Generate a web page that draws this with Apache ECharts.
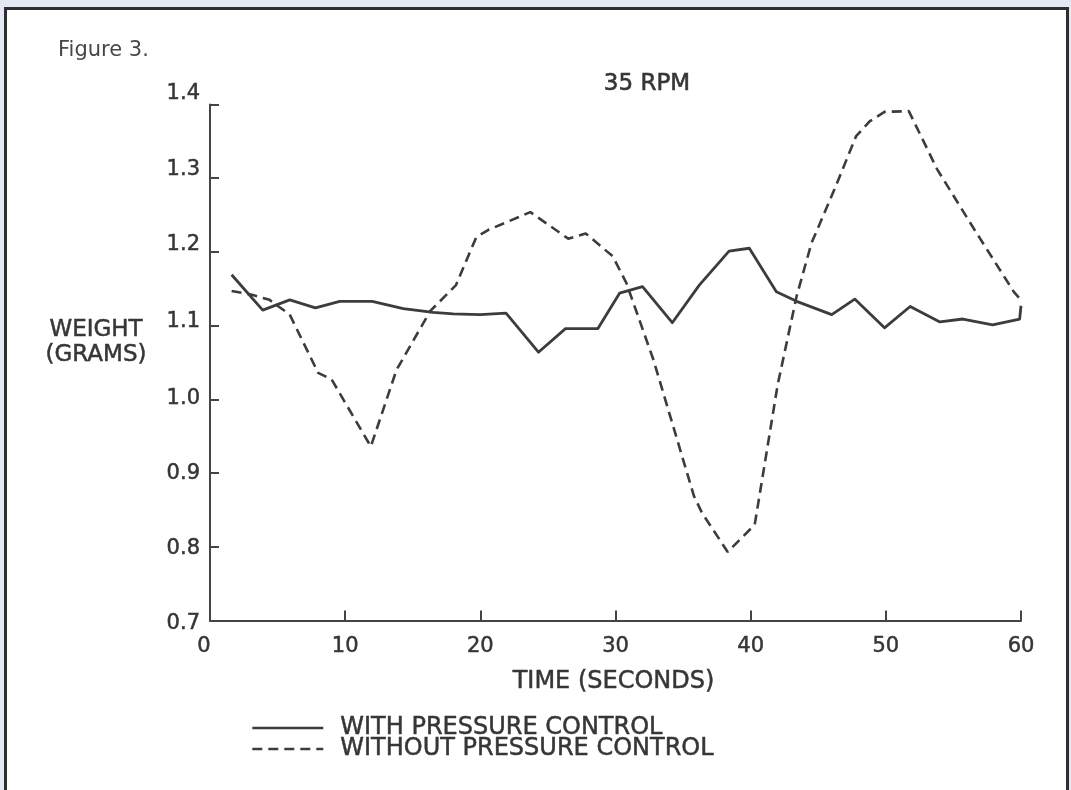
<!DOCTYPE html>
<html>
<head>
<meta charset="utf-8">
<script src="https://cdn.jsdelivr.net/npm/echarts@6/dist/echarts.min.js"></script>
<style>
  html, body { margin: 0; padding: 0; width: 1071px; height: 790px; overflow: hidden; background: #e4e8f2; }
  #frame { position: absolute; left: 4px; top: 7px; width: 1065px; height: 800px; box-sizing: border-box; border: 3px solid #2e2e2e; background: #ffffff; }
  #chart { position: absolute; left: 0; top: 0; width: 1071px; height: 790px; }
</style>
</head>
<body>
<div id="frame"></div>
<div id="chart"></div>
<script>
// ---- data ----
const seriesNames = ['WITH PRESSURE CONTROL', 'WITHOUT PRESSURE CONTROL'];

const timeWith = [1.6, 3.9, 5.9, 7.8, 9.6, 12.0, 14.3, 16.5, 18.0, 20.0, 21.9, 24.3, 26.3, 28.7, 30.3, 32.0, 34.2, 36.2, 38.4, 39.9, 41.9, 43.4, 46.0, 47.7, 49.9, 51.8, 54.0, 55.7, 57.9, 59.9, 60.0];
const weightWith = [1.169, 1.121, 1.135, 1.124, 1.133, 1.133, 1.123, 1.118, 1.116, 1.115, 1.117, 1.064, 1.096, 1.096, 1.144, 1.153, 1.104, 1.155, 1.201, 1.205, 1.146, 1.133, 1.115, 1.136, 1.097, 1.126, 1.105, 1.109, 1.101, 1.109, 1.127];

const timeWithout = [1.6, 3.1, 4.4, 5.9, 8.0, 9.0, 11.9, 13.8, 16.3, 18.2, 19.7, 20.6, 23.7, 26.5, 27.8, 29.8, 30.8, 32.8, 35.8, 36.4, 38.3, 40.3, 42.0, 43.4, 44.5, 46.2, 47.8, 48.8, 49.9, 51.7, 53.8, 56.7, 59.5, 60.0];
const weightWithout = [1.147, 1.142, 1.135, 1.115, 1.036, 1.027, 0.936, 1.040, 1.120, 1.155, 1.220, 1.230, 1.254, 1.218, 1.225, 1.194, 1.158, 1.054, 0.869, 0.846, 0.793, 0.830, 1.020, 1.140, 1.212, 1.285, 1.357, 1.377, 1.390, 1.391, 1.312, 1.226, 1.145, 1.135];

const xTicks = [0, 10, 20, 30, 40, 50, 60];
const yTicks = ['0.7', '0.8', '0.9', '1.0', '1.1', '1.2', '1.3', '1.4'];

// ---- styling ----
const FONT = 'DejaVu Sans';
const TXT = '#363636';
const LINE = '#3c3c3c';
const THICK = { textBorderColor: TXT, textBorderWidth: 0.5 };

// small vertical shifts of the y tick labels as printed in the original
const yShift = { '1.4': -11, '1.3': -9, '1.2': -7, '1.1': -4, '1.0': -1, '0.9': 0, '0.8': 2, '0.7': 3 };
const yRich = {};
yTicks.forEach((t, i) => {
  const d = yShift[t] || 0;
  yRich['y' + i] = Object.assign({
    fontFamily: FONT, fontSize: 21, color: TXT,
    padding: d < 0 ? [0, 0, -2 * d, 0] : [2 * d, 0, 0, 0]
  }, THICK);
});

const chart = echarts.init(document.getElementById('chart'), null, { renderer: 'canvas' });

const legendBase = {
  left: 251, padding: 0, itemWidth: 71, itemHeight: 14,
  itemStyle: { opacity: 0 },
  lineStyle: { width: 2.6 },
  textStyle: Object.assign({ fontFamily: FONT, fontSize: 24, color: TXT, lineHeight: 24, padding: [0, 0, 7, 12] }, THICK)
};

const option = {
  backgroundColor: 'transparent',
  animation: false,
  grid: { left: 210, right: 50, top: 104.5, bottom: 169.5, containLabel: false },
  xAxis: {
    type: 'value', min: xTicks[0], max: xTicks[xTicks.length - 1], interval: 10,
    axisLine: { show: true, onZero: false, lineStyle: { color: '#444', width: 2 } },
    axisTick: { show: true, inside: true, length: 10, lineStyle: { color: '#444', width: 2 } },
    splitLine: { show: false },
    axisLabel: {
      margin: 16, color: TXT, fontFamily: FONT, fontSize: 21,
      formatter: v => v === 0 ? '{z|0}' : '{n|' + v + '}',
      rich: {
        z: Object.assign({ fontFamily: FONT, fontSize: 21, color: TXT, padding: [0, 12, 0, 0] }, THICK),
        n: Object.assign({ fontFamily: FONT, fontSize: 21, color: TXT }, THICK)
      }
    }
  },
  yAxis: {
    type: 'value', min: 0.7, max: 1.4, interval: 0.1,
    axisLine: { show: true, onZero: false, lineStyle: { color: '#444', width: 2 } },
    axisTick: { show: true, inside: true, length: 9, lineStyle: { color: '#444', width: 2 } },
    splitLine: { show: false },
    axisLabel: {
      margin: 10, color: TXT, fontFamily: FONT, fontSize: 21,
      formatter: v => {
        const s = v.toFixed(1);
        const i = yTicks.indexOf(s);
        return '{y' + i + '|' + s + '}';
      },
      rich: yRich
    }
  },
  legend: [
    Object.assign({ data: [seriesNames[0]], top: 712.5 }, legendBase),
    Object.assign({ data: [seriesNames[1]], top: 733.5 }, legendBase)
  ],
  graphic: [
    { type: 'text', left: 58, top: 40, style: { text: 'Figure 3.', font: '21px "DejaVu Sans"', fill: '#474747' } },
    { type: 'text', x: 647, y: 84, style: Object.assign({ text: '35 RPM', font: '23px "DejaVu Sans"', fill: TXT, align: 'center', verticalAlign: 'middle', stroke: TXT, lineWidth: 0.6 }) },
    { type: 'text', x: 96, y: 330, style: { text: 'WEIGHT', font: '23px "DejaVu Sans"', fill: TXT, align: 'center', verticalAlign: 'middle', stroke: TXT, lineWidth: 0.5 } },
    { type: 'text', x: 96, y: 355, style: { text: '(GRAMS)', font: '23px "DejaVu Sans"', fill: TXT, align: 'center', verticalAlign: 'middle', stroke: TXT, lineWidth: 0.5 } },
    { type: 'text', x: 613.5, y: 681.5, style: { text: 'TIME (SECONDS)', font: '24px "DejaVu Sans"', fill: TXT, align: 'center', verticalAlign: 'middle', stroke: TXT, lineWidth: 0.5 } }
  ],
  series: [
    {
      name: seriesNames[0], type: 'line', symbol: 'none', smooth: false,
      data: timeWith.map((t, i) => [t, weightWith[i]]),
      lineStyle: { color: LINE, width: 2.8, type: 'solid', join: 'round' },
      itemStyle: { color: LINE }
    },
    {
      name: seriesNames[1], type: 'line', symbol: 'none', smooth: false,
      data: timeWithout.map((t, i) => [t, weightWithout[i]]),
      lineStyle: { color: LINE, width: 2.6, type: [10, 6] },
      itemStyle: { color: LINE }
    }
  ]
};

chart.setOption(option);
</script>
</body>
</html>
